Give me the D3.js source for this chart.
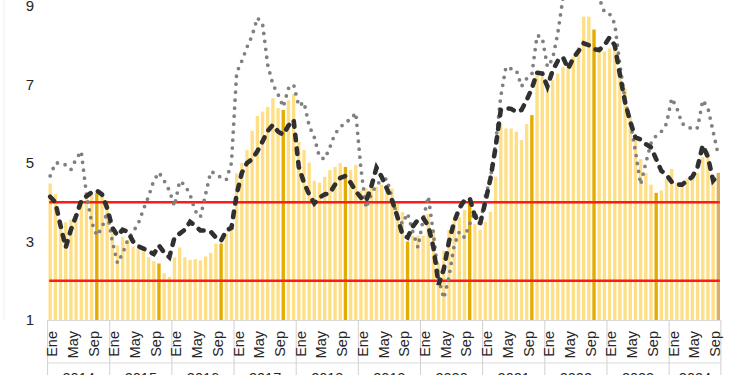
<!DOCTYPE html>
<html>
<head>
<meta charset="utf-8">
<script src="https://cdn.jsdelivr.net/npm/d3@7"></script>
<style>
  body { margin: 0; background: #fff; }
  svg { display: block; font-family: "Liberation Sans", Arial, sans-serif; }
</style>
</head>
<body>
<div id="chart"></div>
<script>
// monthly data, Ene 2014 - Oct 2024
var years = ["2014", "2015", "2016", "2017", "2018", "2019", "2020", "2021", "2022", "2023", "2024"];
var monthNames = ["Ene", "Feb", "Mar", "Abr", "May", "Jun", "Jul", "Ago", "Sep", "Oct", "Nov", "Dic"];
var shownMonths = ["Ene", "May", "Sep"];
var yTicks = [1, 3, 5, 7, 9];
var limits = [2, 4];

var barValues = [
  4.48, 4.21, 3.48, 3.49, 3.55, 3.68, 4.06, 4.10, 4.18, 4.23, 4.18, 4.05,
  3.21, 2.90, 3.12, 3.04, 2.87, 2.83, 2.74, 2.60, 2.50, 2.44, 2.19, 2.10,
  2.60, 2.85, 2.60, 2.53, 2.55, 2.52, 2.62, 2.71, 2.95, 2.95, 3.20, 3.29,
  4.74, 5.00, 5.33, 5.82, 6.20, 6.31, 6.43, 6.65, 6.40, 6.35, 6.60, 6.76,
  5.54, 5.33, 5.01, 4.55, 4.50, 4.65, 4.82, 4.90, 5.00, 4.90, 4.82, 4.95,
  4.30, 4.35, 4.40, 4.40, 4.45, 4.45, 4.35, 3.95, 3.75, 3.00, 3.15, 3.15,
  3.15, 3.70, 3.30, 2.44, 2.77, 3.29, 3.55, 3.62, 3.80, 4.05, 3.45, 3.30,
  3.50, 3.76, 4.65, 6.00, 5.88, 5.88, 5.80, 5.59, 5.99, 6.22, 7.24, 7.20,
  6.86, 7.11, 7.28, 7.45, 7.50, 7.71, 7.96, 8.73, 8.73, 8.40, 7.96, 7.84,
  7.92, 7.88, 7.40, 6.90, 6.20, 5.70, 5.10, 4.75, 4.45, 4.24, 4.30, 4.60,
  4.85, 4.50, 4.45, 4.60, 4.65, 4.75, 5.15, 5.30, 4.60, 4.75
];

var dashedValues = [
  4.14, 4.00, 3.40, 2.85, 3.30, 3.65, 4.04, 4.15, 4.25, 4.30, 4.20, 3.85,
  3.35, 3.15, 3.30, 3.25, 3.00, 2.88, 2.82, 2.75, 2.68, 2.90, 2.72, 2.60,
  3.10, 3.20, 3.30, 3.50, 3.40, 3.28, 3.28, 3.25, 3.10, 3.02, 3.28, 3.35,
  4.20, 4.75, 5.00, 5.10, 5.30, 5.55, 5.82, 5.97, 5.80, 5.72, 5.95, 6.10,
  4.90, 4.50, 4.20, 3.97, 4.12, 4.20, 4.23, 4.45, 4.62, 4.67, 4.50, 4.28,
  4.12, 4.03, 4.40, 4.88, 4.65, 4.35, 4.05, 3.65, 3.18, 3.10, 3.38, 3.55,
  3.60, 3.40, 2.85, 1.90, 2.30, 3.00, 3.50, 3.85, 4.05, 4.10, 3.65, 3.45,
  4.00, 4.60, 5.40, 6.35, 6.40, 6.38, 6.30, 6.35, 6.60, 6.90, 7.30, 7.28,
  6.95, 7.35, 7.60, 7.70, 7.40, 7.67, 7.85, 8.05, 8.00, 7.90, 7.88, 8.00,
  8.20, 8.00, 7.25, 6.55, 6.05, 5.65, 5.60, 5.48, 5.40, 5.10, 4.80, 4.70,
  4.52, 4.45, 4.45, 4.55, 4.65, 4.90, 5.45, 5.15, 4.55, 4.70
];

var dottedValues = [
  4.67, 5.00, 5.00, 4.95, 4.83, 5.10, 5.30, 4.20, 3.50, 3.15, 3.35, 3.75,
  3.00, 2.45, 2.70, 3.05, 3.25, 3.45, 3.82, 4.15, 4.55, 4.76, 4.55, 4.30,
  3.90, 4.54, 4.44, 4.20, 3.78, 3.62, 4.20, 4.78, 4.73, 4.62, 4.57, 5.00,
  7.30, 7.60, 7.95, 8.25, 8.70, 8.55, 7.50, 7.00, 6.75, 6.43, 6.90, 7.00,
  6.45, 6.55, 5.95, 5.65, 5.15, 5.10, 5.40, 5.75, 5.90, 6.05, 6.10, 6.28,
  4.85, 3.85, 4.20, 4.45, 4.55, 4.60, 4.10, 3.65, 3.45, 3.72, 3.25, 2.85,
  3.55, 4.15, 3.20, 2.05, 1.55, 2.10, 2.90, 3.25, 3.10, 3.45, 3.75, 3.42,
  4.15, 4.60, 5.50, 6.70, 7.45, 7.40, 7.37, 6.95, 7.15, 7.25, 8.25, 8.20,
  7.45, 7.65, 8.30, 9.20, 9.20, 9.30, 9.50, 9.60, 9.50, 9.40, 9.20, 8.85,
  8.80, 8.55, 7.50, 6.60, 6.05, 5.30, 4.45, 5.00, 5.50, 5.70, 5.80, 6.00,
  6.65, 6.40, 6.00, 5.95, 5.85, 5.90, 6.60, 6.40, 5.80, 5.20
];

var width = 750, height = 375;
var plotLeft = 47.6, plotRight = 720.9, plotTop = 6, plotBottom = 320;

var svg = d3.select("#chart").append("svg")
  .attr("width", width)
  .attr("height", height);

var x = d3.scaleBand()
  .domain(d3.range(barValues.length))
  .range([plotLeft, plotRight])
  .paddingInner(0.35)
  .paddingOuter(0.175);

var y = d3.scaleLinear()
  .domain([1, 9])
  .range([plotBottom, plotTop]);

var cx = function(i) { return x(i) + x.bandwidth() / 2; };

// faint frame line on the left
svg.append("line")
  .attr("x1", 4).attr("x2", 4)
  .attr("y1", 0).attr("y2", plotBottom)
  .attr("stroke", "#f0f0f0");

// y tick labels
svg.append("g").selectAll("text")
  .data(yTicks)
  .enter()
  .append("text")
  .attr("x", 34)
  .attr("y", d => y(d))
  .attr("dy", "0.36em")
  .attr("text-anchor", "end")
  .attr("font-size", "15px")
  .attr("fill", "#262626")
  .text(d => d);

// bars
var last = barValues.length - 1;
svg.append("g").selectAll("rect")
  .data(barValues)
  .enter()
  .append("rect")
  .attr("x", (d, i) => x(i))
  .attr("width", x.bandwidth())
  .attr("y", d => y(d))
  .attr("height", d => y(1) - y(d))
  .attr("fill", (d, i) => i == last ? "#deae62" : (i % 12 == 9 ? "#e5ac00" : "#ffdf86"));

// limit lines
svg.append("g").selectAll("line")
  .data(limits)
  .enter()
  .append("line")
  .attr("x1", cx(0) - 1)
  .attr("x2", cx(last) + 1.5)
  .attr("y1", d => y(d))
  .attr("y2", d => y(d))
  .attr("stroke", "#ff1a1a")
  .attr("stroke-width", 2.6);

var line = d3.line()
  .x((d, i) => cx(i))
  .y(d => y(d));

svg.append("path")
  .datum(dottedValues)
  .attr("d", line)
  .attr("fill", "none")
  .attr("stroke", "#808080")
  .attr("stroke-width", 3.8)
  .attr("stroke-linecap", "round")
  .attr("stroke-dasharray", "0,8");

svg.append("path")
  .datum(dashedValues)
  .attr("d", line)
  .attr("fill", "none")
  .attr("stroke", "#303030")
  .attr("stroke-width", 4.6)
  .attr("stroke-linecap", "round")
  .attr("stroke-dasharray", "5.5,8.2");

// x axis: month labels, year labels, separators
var axis = svg.append("g");

axis.append("line")
  .attr("x1", plotLeft).attr("x2", plotRight)
  .attr("y1", plotBottom + 0.5).attr("y2", plotBottom + 0.5)
  .attr("stroke", "#d9d9d9");

axis.append("line")
  .attr("x1", plotLeft).attr("x2", plotRight)
  .attr("y1", 363).attr("y2", 363)
  .attr("stroke", "#d9d9d9");

var bounds = years.map((yr, k) => x(k * 12) - x.step() * x.paddingInner() / 2);
bounds.push(plotRight);

axis.selectAll(".sep")
  .data(bounds)
  .enter()
  .append("line")
  .attr("class", "sep")
  .attr("x1", d => d).attr("x2", d => d)
  .attr("y1", plotBottom).attr("y2", height)
  .attr("stroke", "#d0d0d0");

var monthIdx = d3.range(barValues.length)
  .filter(i => shownMonths.indexOf(monthNames[i % 12]) >= 0);

axis.selectAll(".month")
  .data(monthIdx)
  .enter()
  .append("text")
  .attr("class", "month")
  .attr("transform", i => `translate(${cx(i) + 1.7}, 331) rotate(-90)`)
  .attr("dy", "0.36em")
  .attr("text-anchor", "end")
  .attr("font-size", "14.5px")
  .attr("fill", "#262626")
  .text(i => monthNames[i % 12]);

axis.selectAll(".year")
  .data(years)
  .enter()
  .append("text")
  .attr("class", "year")
  .attr("x", (d, k) => (bounds[k] + bounds[k + 1]) / 2)
  .attr("y", 383)
  .attr("text-anchor", "middle")
  .attr("font-size", "14.5px")
  .attr("fill", "#262626")
  .text(d => d);
</script>
</body>
</html>
